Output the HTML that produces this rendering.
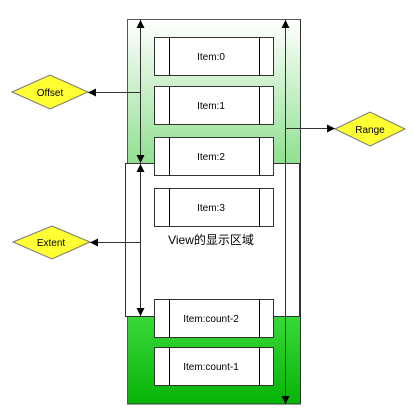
<!DOCTYPE html>
<html><head><meta charset="utf-8"><style>
html,body{margin:0;padding:0;background:#fff;}
svg{display:block;}
text{font-family:"Liberation Sans","Noto Sans CJK SC",sans-serif;font-size:10px;fill:#000;}
</style></head><body>
<svg width="414" height="413" viewBox="0 0 414 413" xmlns="http://www.w3.org/2000/svg">
<defs>
<linearGradient id="g1" x1="0" y1="0" x2="0" y2="1">
<stop offset="0" stop-color="#ffffff"/><stop offset="1" stop-color="#8fe08f"/>
</linearGradient>
<linearGradient id="g2" x1="0" y1="0" x2="0" y2="1">
<stop offset="0" stop-color="#3ad83a"/><stop offset="1" stop-color="#06b406"/>
</linearGradient>
<marker id="ah" viewBox="0 0 10 10" refX="10" refY="5" markerWidth="8" markerHeight="8" orient="auto-start-reverse" markerUnits="userSpaceOnUse">
<path d="M0,0 L10,5 L0,10 z" fill="#000"/>
</marker>
</defs>
<!-- outer list -->
<rect x="127.5" y="19.5" width="173" height="145" fill="url(#g1)" stroke="#555"/>
<rect x="127.5" y="316" width="173" height="88" fill="url(#g2)" stroke="#333"/>
<line x1="127.5" y1="19.5" x2="127.5" y2="404" stroke="#555"/>
<line x1="300.5" y1="19.5" x2="300.5" y2="404" stroke="#333"/>
<!-- viewport -->
<rect x="125.5" y="163.5" width="174" height="153" fill="#fff" stroke="#333"/>
<!-- items -->
<g fill="#fff" stroke="#333">
<rect x="154.5" y="37.5" width="119" height="38"/>
<rect x="154.5" y="86.5" width="119" height="38"/>
<rect x="154.5" y="137.5" width="119" height="38"/>
<rect x="154.5" y="188.5" width="119" height="38"/>
<rect x="154.5" y="299.5" width="119" height="38"/>
<rect x="154.5" y="347.5" width="119" height="38"/>
</g>
<g stroke="#000">
<line x1="169.5" y1="37.5" x2="169.5" y2="75.5"/><line x1="259.5" y1="37.5" x2="259.5" y2="75.5"/>
<line x1="169.5" y1="86.5" x2="169.5" y2="124.5"/><line x1="259.5" y1="86.5" x2="259.5" y2="124.5"/>
<line x1="169.5" y1="137.5" x2="169.5" y2="175.5"/><line x1="259.5" y1="137.5" x2="259.5" y2="175.5"/>
<line x1="169.5" y1="188.5" x2="169.5" y2="226.5"/><line x1="259.5" y1="188.5" x2="259.5" y2="226.5"/>
<line x1="169.5" y1="299.5" x2="169.5" y2="337.5"/><line x1="259.5" y1="299.5" x2="259.5" y2="337.5"/>
<line x1="169.5" y1="347.5" x2="169.5" y2="385.5"/><line x1="259.5" y1="347.5" x2="259.5" y2="385.5"/>
</g>
<g text-anchor="middle">
<text x="211" y="60">Item:0</text>
<text x="211" y="109">Item:1</text>
<text x="211" y="160">Item:2</text>
<text x="211" y="211">Item:3</text>
<text x="211" y="322">Item:count-2</text>
<text x="211" y="370">Item:count-1</text>
<text x="211" y="244" style="font-size:12px">View的显示区域</text>
</g>
<!-- arrows -->
<g stroke="#333" fill="none">
<line x1="140.5" y1="20" x2="140.5" y2="163" marker-start="url(#ah)" marker-end="url(#ah)"/>
<line x1="140.5" y1="164" x2="140.5" y2="316" marker-start="url(#ah)" marker-end="url(#ah)"/>
<line x1="285.5" y1="20" x2="285.5" y2="404" marker-start="url(#ah)" marker-end="url(#ah)"/>
<line x1="140.5" y1="92.5" x2="88" y2="92.5" marker-end="url(#ah)"/>
<line x1="140.5" y1="242.5" x2="90" y2="242.5" marker-end="url(#ah)"/>
<line x1="285.5" y1="128.5" x2="335" y2="128.5" marker-end="url(#ah)"/>
</g>
<!-- diamonds -->
<g fill="#ffff33" stroke="#777">
<polygon points="12,92 50,75 88,92 50,109"/>
<polygon points="13,242 52,226 90,242 52,259"/>
<polygon points="335,129 370,112 405,129 370,146"/>
</g>
<g text-anchor="middle">
<text x="50" y="96">Offset</text>
<text x="51" y="246">Extent</text>
<text x="370" y="133">Range</text>
</g>
</svg>
</body></html>
